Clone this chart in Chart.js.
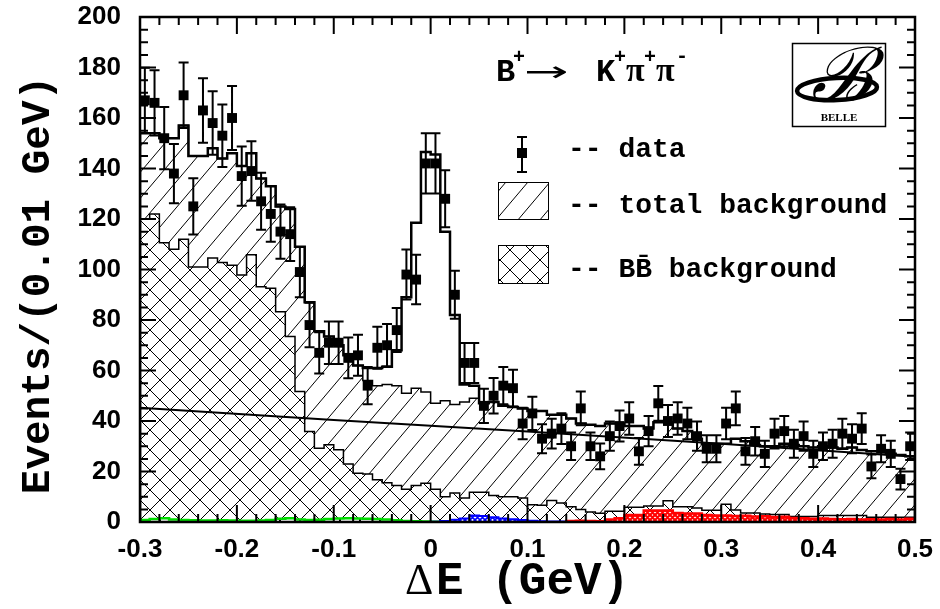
<!DOCTYPE html>
<html>
<head>
<meta charset="utf-8">
<script src="https://cdn.jsdelivr.net/npm/chart.js@4.4.1/dist/chart.umd.min.js"></script>
<style>
    html, body { margin: 0; padding: 0; background: #fff; }
    #wrap { width: 940px; height: 609px; }
</style>
</head>
<body>
<div id="wrap"><canvas id="deltaE"></canvas></div>
<script>
// Delta E for B+ -> K+ pi+ pi-, 80 bins of 0.01 GeV from -0.3 to 0.5

const binLow = -0.3;
const binWidth = 0.01;
const xTicks = [-0.3, -0.2, -0.1, 0, 0.1, 0.2, 0.3, 0.4, 0.5];
const yTicks = [0, 20, 40, 60, 80, 100, 120, 140, 160, 180, 200];

// data, events per bin
const dataCounts = [
    167, 166, 152, 138, 169, 125, 163, 158, 153, 160,
    137, 139, 127, 122, 115, 114, 99, 78, 67, 71,
    71, 65, 66, 54, 69, 70, 76, 98, 96, 142,
    142, 128, 90, 63, 63, 46, 50, 54, 53, 39,
    43, 33, 35, 37, 30, 45, 30, 26, 34, 38,
    41, 28, 36, 47, 40, 41, 39, 34, 29, 29,
    39, 45, 28, 32, 27, 35, 36, 31, 34, 27,
    30, 31, 35, 33, 37, 22, 29, 27, 17, 30
];

// signal + background (open histogram)
const totalMC = [
    154, 154, 152, 152, 157, 145, 145, 148, 144, 146,
    141, 146, 136, 133, 125, 124, 109, 87, 75.5, 73.5,
    70, 66, 62, 61, 61, 61.5, 68, 89, 118.5, 146.5,
    145.5, 115, 82, 54.5, 54, 47, 47.5, 46, 45.5, 45,
    44, 44, 42.5, 42.5, 41, 39, 38.5, 38, 39, 39,
    38, 38, 37, 39.5, 39.5, 37, 36, 33, 31, 31,
    31, 33, 32, 30.5, 30, 30, 31, 30.5, 30, 29.5,
    30, 29.5, 29, 29.5, 28.5, 28, 28, 27, 26.5, 26
];

// total background (single hatch)
const totalBkg = [
    154, 154, 152, 152, 157, 145, 145, 148, 144, 146,
    141, 146, 136, 133, 125, 124, 109, 87, 75.5, 73.5,
    70, 66, 62, 56, 54, 54.5, 54, 51, 53, 51.5,
    47, 48, 46.5, 47.5, 49, 47, 47.5, 46, 45.5, 45,
    44, 44, 42.5, 42.5, 41, 39, 38.5, 38, 39, 39,
    38, 38, 37, 39.5, 39.5, 37, 36, 33, 31, 31,
    31, 33, 32, 30.5, 30, 30, 31, 30.5, 30, 29.5,
    30, 29.5, 29, 29.5, 28.5, 28, 28, 27, 26.5, 26
];

// BB background (cross hatch)
const bbBkg = [
    120, 122, 110.6, 108, 112, 101, 101, 104.6, 102.8, 101.7,
    97.8, 105.8, 93.2, 92.6, 83.3, 73.5, 51.7, 35.8, 29.2, 30.6,
    28.6, 23, 19.3, 19, 16.7, 15.5, 14.5, 13, 14.5, 15.3,
    13, 10, 11.5, 9.5, 11.8, 11.8, 10.5, 10, 10, 9.5,
    6.8, 6.6, 8.5, 7.5, 6, 5, 4, 3.5, 4.3, 4.3,
    5.8, 5.8, 6.3, 6.3, 8.4, 6, 6, 5.5, 4.7, 4.7,
    7, 4.8, 3.6, 3.6, 3.2, 3, 3, 2.2, 2.2, 2.2,
    2.6, 2.6, 2.6, 2.6, 2.6, 1.9, 1.9, 1.9, 1.9, 1.9
];

// small components along the bottom (first bin + values)
const greenStart = 0;
const greenHist = [0.8, 1.2, 1.5, 1.0, 0.8, 0.7, 0.6, 0.6, 0.7, 0.6,
    0.5, 0.5, 0.6, 0.8, 1.3, 1.5, 1.0, 0.8, 0.9, 1.2,
    1.4, 1.5, 1.4, 1.3, 1.2, 1.0, 0.7, 0.4, 0.3, 0.2, 0.1];
const blueStart = 30;
const blueHist = [0.1, 0.4, 0.9, 1.4, 2.6, 2.4, 1.9, 1.4, 1.1, 0.8, 0.5, 0.3, 0.2, 0.2, 0.1];
const redStart = 44;
const redHist = [0.4, 0.5, 0.4, 0.3, 1.0, 1.5, 2.8, 2.8, 4.6, 4.6, 4.6, 3.6, 3.4, 3.4, 2.8, 2.6, 2.6,
    2.4, 2.5, 2.2, 2.3, 2.0, 2.1, 1.6, 1.5, 1.3, 1.4, 1.2, 1.1, 1.2, 1.0, 1.1, 1.0, 1.2, 1.0, 1.3];

// background fit curve, read at a few points
const fitX = [-0.3, -0.1, 0.1, 0.3, 0.5];
const fitY = [45.2, 40.4, 35.8, 31.0, 25.8];

const MONO = '"Liberation Mono", "DejaVu Sans Mono", monospace';

// -------------------------------
// histogram outline as points (left edge, right edge of each bin)
// -------------------------------
function histPoints(start, values) {
    const pts = [{ x: binLow + start * binWidth, y: 0 }];
    values.forEach((v, i) => {
        const lo = binLow + (start + i) * binWidth;
        pts.push({ x: lo, y: v }, { x: lo + binWidth, y: v });
    });
    pts.push({ x: binLow + (start + values.length) * binWidth, y: 0 });
    return pts;
}

// -------------------------------
// hatch fill patterns
// -------------------------------
function hatch(w, h, color, lw, fwd, back, bg) {
    const c = document.createElement("canvas");
    c.width = w; c.height = h;
    const g = c.getContext("2d");
    if (bg) { g.fillStyle = bg; g.fillRect(0, 0, w, h); }
    g.strokeStyle = color;
    g.lineWidth = lw;
    g.beginPath();
    for (let k = -1; k <= 1; k++) {
        if (fwd) { g.moveTo(k * w, h); g.lineTo(k * w + w, 0); }
        if (back) { g.moveTo(k * w, 0); g.lineTo(k * w + w, h); }
    }
    g.stroke();
    return g.createPattern(c, "repeat");
}

const singleHatch = hatch(22, 26, "#000", 1, true, false, null);
const crossHatch = hatch(20, 20, "#000", 1, true, true, "#fff");
const redHatch = hatch(5, 5, "#f00", 2.2, true, true, "#fff");
const blueHatch = hatch(5, 5, "#00f", 1.6, true, true, "#fff");

// -------------------------------
// error bars sqrt(N) on the data points
// -------------------------------
const errorBars = {
    id: "errorBars",
    afterDatasetsDraw(chart) {
        const { ctx, chartArea: a } = chart;
        const y = chart.scales.y;
        const meta = chart.getDatasetMeta(0);
        ctx.save();
        ctx.beginPath();
        ctx.rect(a.left, a.top, a.right - a.left, a.bottom - a.top);
        ctx.clip();
        ctx.strokeStyle = "#000";
        ctx.lineWidth = 2;
        ctx.beginPath();
        meta.data.forEach((pt, i) => {
            const n = dataCounts[i];
            const e = Math.sqrt(n);
            const top = y.getPixelForValue(n + e);
            const bot = y.getPixelForValue(n - e);
            ctx.moveTo(pt.x, top); ctx.lineTo(pt.x, bot);
            ctx.moveTo(pt.x - 5, top); ctx.lineTo(pt.x + 5, top);
            ctx.moveTo(pt.x - 5, bot); ctx.lineTo(pt.x + 5, bot);
        });
        ctx.stroke();
        ctx.restore();
    }
};

// -------------------------------
// frame with inward ticks, titles, legend and logo
// -------------------------------
const decorations = {
    id: "decorations",
    afterDraw(chart) {
        const { ctx, chartArea: a } = chart;
        const x = chart.scales.x, y = chart.scales.y;
        ctx.save();
        ctx.strokeStyle = "#000";
        ctx.fillStyle = "#000";

        // ticks
        ctx.lineWidth = 2;
        ctx.beginPath();
        for (let i = 0; i <= 40; i++) {
            const px = x.getPixelForValue(-0.3 + i * 0.02);
            const len = i % 5 === 0 ? 17 : 8;
            ctx.moveTo(px, a.bottom); ctx.lineTo(px, a.bottom - len);
            ctx.moveTo(px, a.top); ctx.lineTo(px, a.top + len);
        }
        for (let i = 0; i <= 40; i++) {
            const py = y.getPixelForValue(i * 5);
            const len = i % 4 === 0 ? 16 : 8;
            ctx.moveTo(a.left, py); ctx.lineTo(a.left + len, py);
            ctx.moveTo(a.right, py); ctx.lineTo(a.right - len, py);
        }
        ctx.stroke();

        // frame
        ctx.lineWidth = 2.5;
        ctx.strokeRect(a.left, a.top, a.right - a.left, a.bottom - a.top);

        // axis titles
        ctx.textBaseline = "alphabetic";
        ctx.font = "bold 41px " + MONO;
        ctx.save();
        ctx.translate(49, 285);
        ctx.rotate(-Math.PI / 2);
        ctx.textAlign = "center";
        ctx.fillText("Events/(0.01 GeV)", 0, 0);
        ctx.restore();

        ctx.textAlign = "left";
        ctx.font = '44px "Liberation Serif", serif';
        ctx.fillText("Δ", 405, 594);
        ctx.font = "bold 46px " + MONO;
        ctx.fillText("E (GeV)", 436, 594);

        // decay title
        ctx.font = "bold 32px " + MONO;
        ctx.fillText("B", 496, 81);
        ctx.fillText("K", 596, 81);
        ctx.font = "bold 20px " + MONO;
        ctx.fillText("+", 513, 63);
        ctx.fillText("+", 614, 63);
        ctx.fillText("+", 644, 63);
        ctx.fillText("-", 676, 62);
        ctx.font = 'bold 34px "Liberation Serif", serif';
        ctx.fillText("π", 626, 81);
        ctx.fillText("π", 656, 81);
        ctx.save();
        ctx.translate(524, 81);
        ctx.scale(1.9, 1);
        ctx.font = '28px "DejaVu Sans", sans-serif';
        ctx.fillText("→", 0, 0);
        ctx.restore();

        // legend: data
        ctx.lineWidth = 2;
        ctx.beginPath();
        ctx.moveTo(522, 137); ctx.lineTo(522, 172);
        ctx.moveTo(517, 137); ctx.lineTo(527, 137);
        ctx.moveTo(517, 172); ctx.lineTo(527, 172);
        ctx.stroke();
        ctx.fillRect(517, 148, 10, 10);

        // legend: hatched boxes
        ctx.lineWidth = 1;
        ctx.fillStyle = singleHatch;
        ctx.fillRect(498, 182, 50, 37);
        ctx.strokeRect(498.5, 182.5, 50, 37);
        ctx.fillStyle = crossHatch;
        ctx.fillRect(498, 245, 50, 38);
        ctx.strokeRect(498.5, 245.5, 50, 38);

        ctx.fillStyle = "#000";
        ctx.font = "bold 28px " + MONO;
        ctx.fillText("-- data", 568, 157);
        ctx.fillText("-- total background", 568, 213);
        ctx.fillText("-- BB\u0304 background", 568, 277);

        // Belle logo
        ctx.lineWidth = 1.5;
        ctx.strokeRect(792.5, 43.5, 93, 83);
        ctx.textAlign = "center";
        ctx.font = 'italic 74px "DejaVu Serif", serif';
        ctx.fillText("\u212C", 842, 100);
        ctx.lineWidth = 4.5;
        ctx.beginPath();
        ctx.ellipse(837, 89, 40, 11, -0.05, 0, 2 * Math.PI);
        ctx.stroke();
        ctx.font = 'bold 11px "Liberation Serif", serif';
        ctx.fillText("BELLE", 839, 121);

        ctx.restore();
    }
};

// -------------------------------
// build the chart
// -------------------------------
const dataPoints = dataCounts.map((n, i) => ({ x: binLow + (i + 0.5) * binWidth, y: n }));
const fitPoints = fitX.map((v, i) => ({ x: v, y: fitY[i] }));

const lineBase = { pointRadius: 0, tension: 0, borderJoinStyle: "miter" };

new Chart(document.getElementById("deltaE"), {
    type: "line",
    data: {
        datasets: [
            { label: "data", data: dataPoints, showLine: false, pointStyle: "rect",
              pointRadius: 7, backgroundColor: "#000", borderColor: "#000", borderWidth: 0, order: 0 },
            Object.assign({ label: "total", data: histPoints(0, totalMC), borderColor: "#000",
              borderWidth: 2.5, fill: false, order: 1 }, lineBase),
            Object.assign({ label: "fit", data: fitPoints, borderColor: "#000",
              borderWidth: 2, fill: false, order: 2 }, lineBase),
            Object.assign({ label: "red", data: histPoints(redStart, redHist), borderColor: "#f00",
              backgroundColor: redHatch, borderWidth: 2.5, fill: "origin", order: 3 }, lineBase),
            Object.assign({ label: "blue", data: histPoints(blueStart, blueHist), borderColor: "#00f",
              backgroundColor: blueHatch, borderWidth: 2, fill: "origin", order: 3 }, lineBase),
            Object.assign({ label: "green", data: histPoints(greenStart, greenHist), borderColor: "#0d0",
              borderWidth: 2.5, fill: false, order: 3 }, lineBase),
            Object.assign({ label: "BB background", data: histPoints(0, bbBkg), borderColor: "#000",
              backgroundColor: crossHatch, borderWidth: 1.5, fill: "origin", order: 5 }, lineBase),
            Object.assign({ label: "total background", data: histPoints(0, totalBkg), borderColor: "#000",
              backgroundColor: singleHatch, borderWidth: 1.5, fill: "origin", order: 6 }, lineBase)
        ]
    },
    options: {
        responsive: true,
        maintainAspectRatio: false,
        animation: false,
        layout: { padding: { top: 17, right: 25, left: 0, bottom: 0 } },
        plugins: { legend: { display: false }, tooltip: { enabled: false } },
        scales: {
            x: {
                type: "linear", min: -0.3, max: 0.5,
                afterBuildTicks: s => { s.ticks = xTicks.map(v => ({ value: v })); },
                afterFit: s => { s.height = 87; s.paddingLeft = 0; s.paddingRight = 0; },
                grid: { display: false, drawTicks: false },
                border: { display: false },
                ticks: {
                    color: "#000", padding: 12, maxRotation: 0, autoSkip: false,
                    font: { family: "Liberation Sans", weight: "bold", size: 26 },
                    callback: v => (Math.abs(v) < 1e-9 ? "0" : String(Number(v.toFixed(1))))
                }
            },
            y: {
                min: 0, max: 200,
                afterBuildTicks: s => { s.ticks = yTicks.map(v => ({ value: v })); },
                afterFit: s => { s.width = 140; s.paddingTop = 0; s.paddingBottom = 0; },
                grid: { display: false, drawTicks: false },
                border: { display: false },
                ticks: {
                    color: "#000", padding: 19,
                    font: { family: "Liberation Sans", weight: "bold", size: 26 }
                }
            }
        }
    },
    plugins: [errorBars, decorations]
});
</script>
</body>
</html>
